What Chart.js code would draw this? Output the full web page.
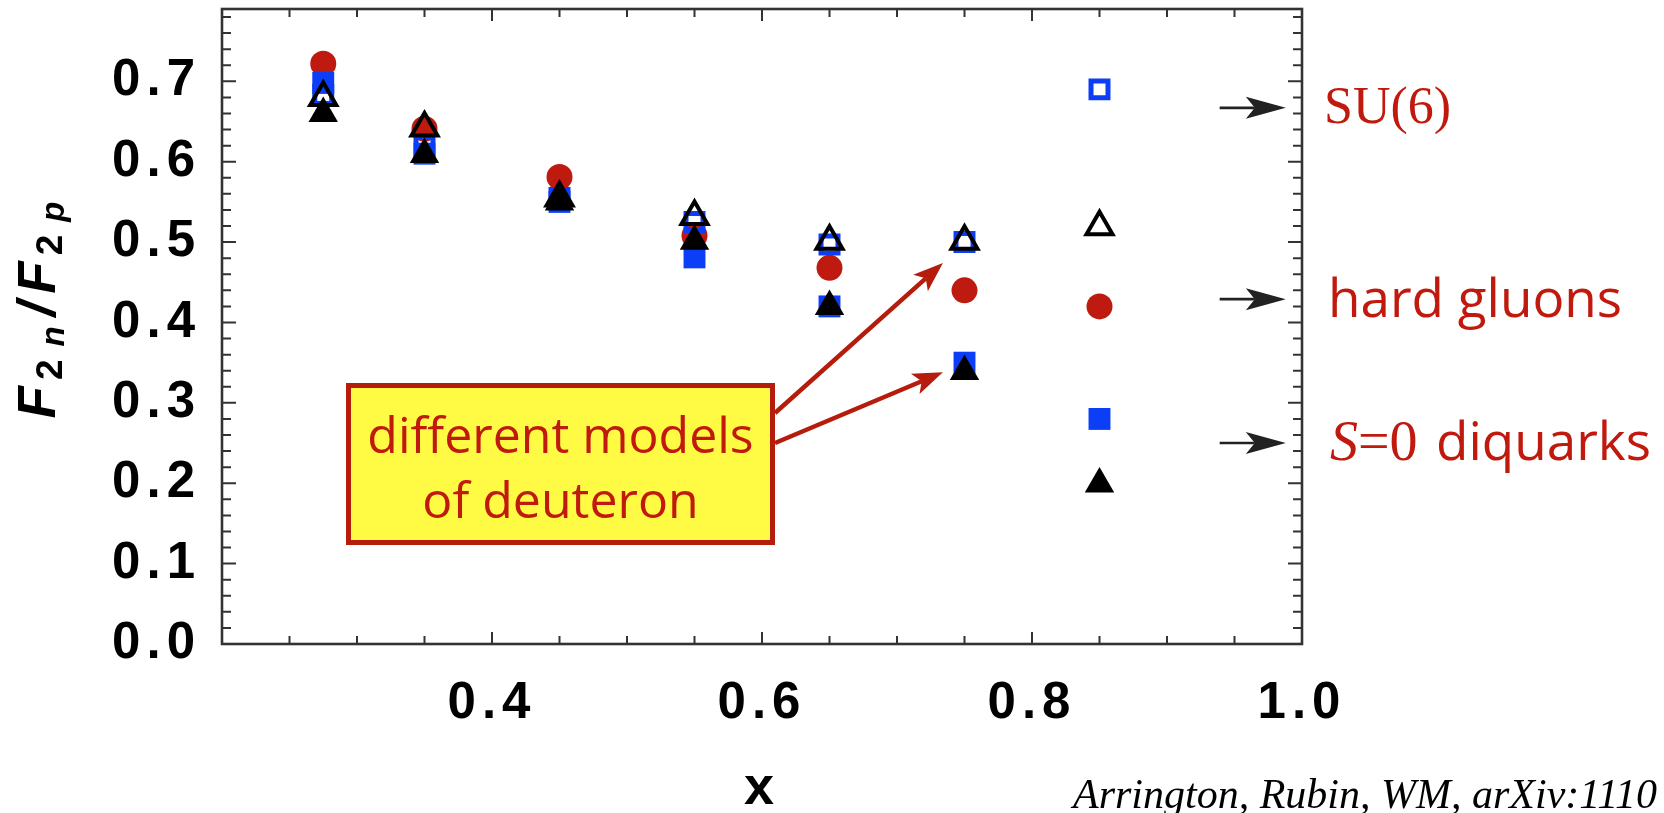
<!DOCTYPE html>
<html>
<head>
<meta charset="utf-8">
<title>F2n/F2p ratio vs x</title>
<script src="https://cdn.jsdelivr.net/npm/chart.js@4.4.1/dist/chart.umd.min.js"></script>
<style>
  html, body { margin: 0; padding: 0; background: #ffffff; }
  #wrap { width: 1664px; height: 813px; position: relative; }
  canvas { display: block; }
</style>
</head>
<body>
<div id="wrap"><canvas id="chart" width="1664" height="813"></canvas></div>
<script>
// ---- data -------------------------------------------------------------
const xValues            = [0.275, 0.35, 0.45, 0.55, 0.65, 0.75, 0.85];
const circleValues       = [0.722, 0.641, 0.581, 0.508, 0.468, 0.440, 0.420];
const squareValues       = [0.698, 0.610, 0.550, 0.481, 0.420, 0.350, 0.280];
const openSquareValues   = [0.683, 0.620, 0.555, 0.525, 0.497, 0.500, 0.690];
const openTriangleValues = [0.680, 0.642, 0.555, 0.532, 0.501, 0.501, 0.519];
const triangleValues     = [0.660, 0.609, 0.550, 0.501, 0.420, 0.339, 0.199];

const yTickLabels = ['0.0', '0.1', '0.2', '0.3', '0.4', '0.5', '0.6', '0.7'];
const xTickLabels = ['0.4', '0.6', '0.8', '1.0'];

// x -> 1 limits marked on the right-hand side
const limitValues = [0.667, 0.429, 0.25];
const calloutLines = ['different models', 'of deuteron'];
const xTitle = 'x';
const citation = 'Arrington, Rubin, WM, arXiv:1110';

// ---- styling ----------------------------------------------------------
const RED = '#be1a0f';
const TEXT_RED = '#c0190d';
const BLUE = '#0d3ef7';
const CLEAR = 'rgba(0,0,0,0)';
const TICK_FONT = { family: 'Liberation Sans, Arial, sans-serif', weight: 'bold', size: 51 };

const pts = ys => xValues.map((x, i) => ({ x, y: ys[i] }));

function markerSet(label, ys, style, radius, fill, stroke, bw) {
  return {
    label, data: pts(ys), showLine: false,
    pointStyle: style, pointRadius: radius, pointHoverRadius: radius,
    pointBackgroundColor: fill, pointBorderColor: stroke,
    pointBorderWidth: bw, pointHoverBorderWidth: bw,
    backgroundColor: fill, borderColor: stroke
  };
}

// first dataset is painted last (on top)
const datasets = [
  markerSet('filled triangles', triangleValues, 'triangle', 17, '#000000', '#000000', 0),
  markerSet('open triangles', openTriangleValues, 'triangle', 15, CLEAR, '#000000', 4),
  markerSet('filled squares', squareValues, 'rect', 15.5, BLUE, BLUE, 0),
  markerSet('open squares', openSquareValues, 'rect', 12, CLEAR, BLUE, 5),
  markerSet('circles', circleValues, 'circle', 13, RED, RED, 0)
];

// ---- helpers ----------------------------------------------------------
function arrow(ctx, x0, y0, x1, y1, lw, headLen, headHalf, notch, color) {
  const a = Math.atan2(y1 - y0, x1 - x0);
  const c = Math.cos(a), s = Math.sin(a);
  const bx = x1 - (headLen - notch) * c, by = y1 - (headLen - notch) * s;
  ctx.save();
  ctx.strokeStyle = color; ctx.fillStyle = color; ctx.lineWidth = lw; ctx.lineCap = 'butt';
  ctx.beginPath(); ctx.moveTo(x0, y0); ctx.lineTo(bx, by); ctx.stroke();
  ctx.beginPath();
  ctx.moveTo(x1, y1);
  ctx.lineTo(x1 - headLen * c - headHalf * s, y1 - headLen * s + headHalf * c);
  ctx.lineTo(bx, by);
  ctx.lineTo(x1 - headLen * c + headHalf * s, y1 - headLen * s - headHalf * c);
  ctx.closePath(); ctx.fill();
  ctx.restore();
}

// frame with inward ticks on all four sides
const frameTicks = {
  id: 'frameTicks',
  beforeDraw(chart) { chart.ctx.letterSpacing = '6px'; },
  beforeDatasetsDraw(chart) {
    const { ctx, chartArea: a, scales: { x, y } } = chart;
    ctx.letterSpacing = '0px';
    ctx.save();
    ctx.strokeStyle = '#333333';
    ctx.lineWidth = 2;
    ctx.beginPath();
    for (let k = 0; ; k++) {
      const v = x.min + k * 0.05;
      if (v > x.max + 1e-9) break;
      const px = x.getPixelForValue(v);
      const major = Math.abs(v / 0.2 - Math.round(v / 0.2)) < 1e-6;
      const len = major ? 12 : 8;
      ctx.moveTo(px, a.bottom); ctx.lineTo(px, a.bottom - len);
      ctx.moveTo(px, a.top); ctx.lineTo(px, a.top + len);
    }
    for (let k = 0; ; k++) {
      const v = y.min + k * 0.02;
      if (v > y.max + 1e-9) break;
      const py = y.getPixelForValue(v);
      const major = Math.abs(v / 0.1 - Math.round(v / 0.1)) < 1e-6;
      const len = major ? 14 : 9;
      ctx.moveTo(a.left, py); ctx.lineTo(a.left + len, py);
      ctx.moveTo(a.right, py); ctx.lineTo(a.right - len, py);
    }
    ctx.stroke();
    ctx.lineWidth = 2.6;
    ctx.strokeRect(a.left, a.top, a.right - a.left, a.bottom - a.top);
    ctx.restore();
  }
};

// annotations: limits, callout, axis label, citation
const annotations = {
  id: 'annotations',
  afterDraw(chart) {
    const { ctx, scales: { x, y } } = chart;
    ctx.save();
    ctx.letterSpacing = '0px';

    // black arrows toward the x -> 1 limits
    limitValues.forEach(v => {
      const py = y.getPixelForValue(v);
      arrow(ctx, x.getPixelForValue(0.939), py, x.getPixelForValue(0.988), py, 2.6, 40, 11, 9, '#222222');
    });

    // limit labels
    ctx.fillStyle = TEXT_RED;
    ctx.textBaseline = 'alphabetic';
    ctx.textAlign = 'left';
    ctx.font = '52px "Liberation Serif", "Times New Roman", serif';
    ctx.fillText('SU(6)', 1324, 123);
    ctx.font = '500 53px "Open Sans", sans-serif';
    ctx.fillText('hard gluons', 1328, 317);
    ctx.font = 'italic 56px "Liberation Serif", "Times New Roman", serif';
    ctx.fillText('S', 1330, 460);
    ctx.font = '56px "Liberation Serif", "Times New Roman", serif';
    ctx.fillText('=0', 1358, 460);
    ctx.font = '500 53px "Open Sans", sans-serif';
    ctx.fillText('diquarks', 1436, 460);

    // callout box
    ctx.fillStyle = '#fffa44';
    ctx.fillRect(348.5, 385.5, 424, 157);
    ctx.strokeStyle = '#b51c0c';
    ctx.lineWidth = 5;
    ctx.strokeRect(348.5, 385.5, 424, 157);
    ctx.fillStyle = TEXT_RED;
    ctx.textAlign = 'center';
    ctx.font = '500 50px "Open Sans", sans-serif';
    ctx.fillText(calloutLines[0], 560.5, 453);
    ctx.fillText(calloutLines[1], 560.5, 518);

    // callout arrows
    arrow(ctx, 775, 413, x.getPixelForValue(0.734), y.getPixelForValue(0.474), 4.5, 30, 11, 7, '#b51c0c');
    arrow(ctx, 775, 443, x.getPixelForValue(0.734), y.getPixelForValue(0.338), 4.5, 30, 11, 7, '#b51c0c');

    // y axis label  F_{2 n} / F_{2 p}
    ctx.save();
    ctx.translate(55, 310);
    ctx.rotate(-Math.PI / 2);
    ctx.fillStyle = '#000000';
    ctx.textAlign = 'left';
    const big = 'italic bold 53px "Liberation Sans", Arial, sans-serif';
    const sub2 = 'bold 37px "Liberation Sans", Arial, sans-serif';
    const subL = 'italic bold 33px "Liberation Sans", Arial, sans-serif';
    const parts = [
      ['F', big, 0, 6], ['2', sub2, 7, 13], ['n', subL, 9, 10],
      ['/', big, 0, 8], ['F', big, 0, 6], ['2', sub2, 7, 13], ['p', subL, 9, 0]
    ];
    let total = 0;
    parts.forEach(p => { ctx.font = p[1]; total += ctx.measureText(p[0]).width + p[3]; });
    let cx = -total / 2;
    parts.forEach(p => {
      ctx.font = p[1];
      ctx.fillText(p[0], cx, p[2]);
      cx += ctx.measureText(p[0]).width + p[3];
    });
    ctx.restore();

    // citation
    ctx.fillStyle = '#000000';
    ctx.textAlign = 'left';
    ctx.font = 'italic 42px "Liberation Serif", "Times New Roman", serif';
    ctx.fillText(citation, 1073, 808);

    ctx.restore();
  }
};

new Chart(document.getElementById('chart').getContext('2d'), {
  type: 'scatter',
  data: { datasets },
  options: {
    responsive: false,
    animation: false,
    devicePixelRatio: 1,
    events: [],
    layout: { autoPadding: false, padding: { top: 9, right: 362, bottom: 0, left: 0 } },
    plugins: { legend: { display: false }, tooltip: { enabled: false } },
    scales: {
      x: {
        type: 'linear', position: 'bottom', min: 0.2, max: 1.0,
        grid: { display: false },
        border: { display: false },
        ticks: {
          stepSize: 0.2, padding: 21, color: '#000000', font: TICK_FONT,
          maxRotation: 0, autoSkip: false,
          callback: v => { const t = Number(v).toFixed(1); return xTickLabels.includes(t) ? t : ''; }
        },
        title: {
          display: true, text: xTitle, color: '#000000',
          font: { family: 'Liberation Sans, Arial, sans-serif', weight: 'bold', size: 54, lineHeight: 0.88 },
          padding: { top: 0, bottom: 0 }
        },
        afterFit: s => { s.height = 169; s.paddingLeft = 0; s.paddingRight = 0; }
      },
      y: {
        type: 'linear', position: 'left', min: 0, max: 0.79,
        grid: { display: false },
        border: { display: false },
        ticks: {
          stepSize: 0.1, padding: 13, color: '#000000', font: TICK_FONT, includeBounds: false,
          callback: v => { const t = Number(v).toFixed(1); return yTickLabels.includes(t) && Math.abs(v * 10 - Math.round(v * 10)) < 1e-6 ? t : ''; }
        },
        afterFit: s => { s.width = 222; s.paddingTop = 0; s.paddingBottom = 0; }
      }
    }
  },
  plugins: [frameTicks, annotations]
});
</script>
</body>
</html>
